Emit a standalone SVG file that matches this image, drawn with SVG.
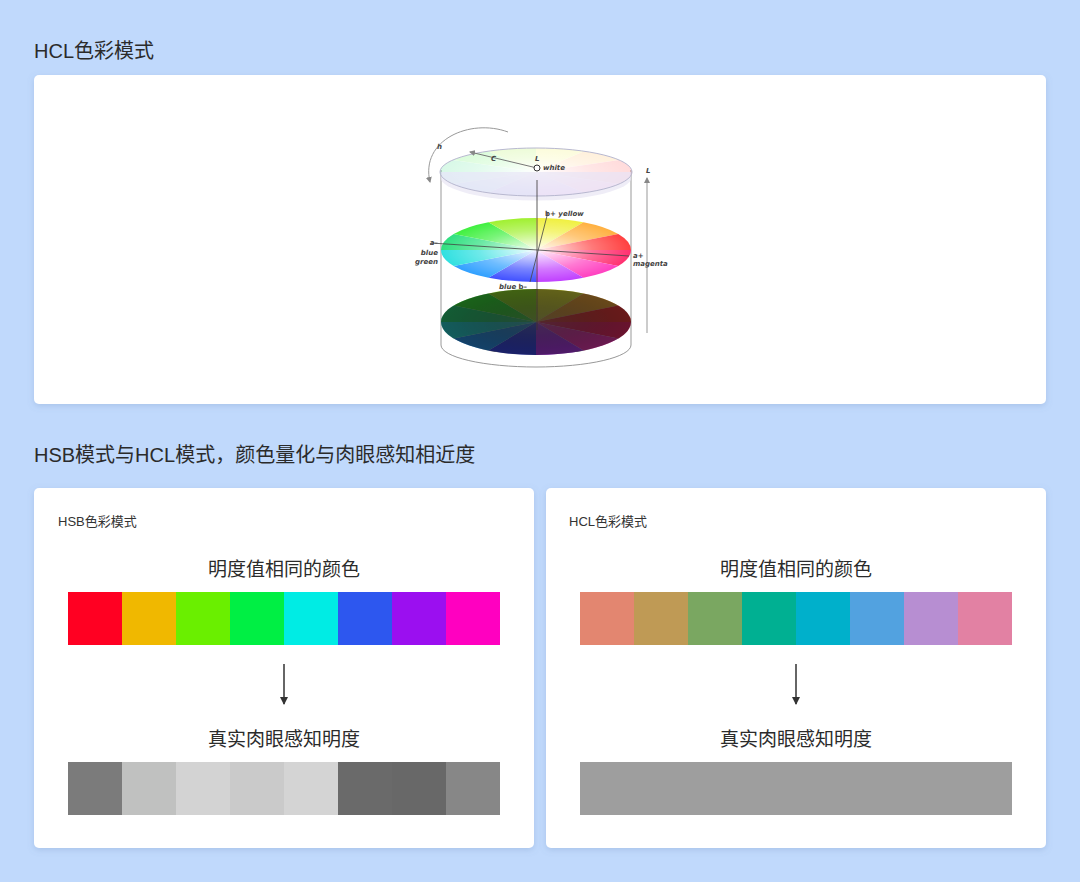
<svg xmlns="http://www.w3.org/2000/svg" width="1080" height="882" viewBox="0 0 1080 882">
<style>
.h{font-family:"Liberation Sans","Noto Sans CJK SC",sans-serif;font-size:20px;fill:#2b2b2b}
.s{font-family:"Liberation Sans","Noto Sans CJK SC",sans-serif;font-size:13px;fill:#333}
.t{font-family:"Liberation Sans","Noto Sans CJK SC",sans-serif;font-size:19px;fill:#2b2b2b;text-anchor:middle}
.card{fill:#fff;filter:url(#sh)}
.lb{font-family:"DejaVu Sans",sans-serif;font-size:7px;font-style:italic;font-weight:bold;fill:#444}
.ln{stroke:#999;fill:none;stroke-width:1}
</style>
<defs>
<filter id="sh" x="-5%" y="-5%" width="110%" height="115%"><feDropShadow dx="0" dy="2" stdDeviation="3" flood-color="#6080b0" flood-opacity="0.25"/></filter>
<radialGradient id="wc"><stop offset="0" stop-color="#fff" stop-opacity="0.95"/><stop offset="0.6" stop-color="#fff" stop-opacity="0.3"/><stop offset="1" stop-color="#fff" stop-opacity="0"/></radialGradient>
<radialGradient id="dk"><stop offset="0" stop-color="#555" stop-opacity="0.6"/><stop offset="1" stop-color="#000" stop-opacity="0.25"/></radialGradient>
<marker id="ar" markerWidth="8" markerHeight="8" refX="7" refY="4" orient="auto" markerUnits="userSpaceOnUse"><path d="M0,0 L8,4 L0,8z" fill="#333"/></marker>
<marker id="sa" markerWidth="6" markerHeight="6" refX="5" refY="3" orient="auto" markerUnits="userSpaceOnUse"><path d="M0,0 L6,3 L0,6z" fill="#888"/></marker>
<g id="wheel">
<path d="M0,0L1,0A1,1 0 0 1 .866,.5z" fill="#ff3070"/>
<path d="M0,0L.866,.5A1,1 0 0 1 .5,.866z" fill="#ff40c0"/>
<path d="M0,0L.5,.866A1,1 0 0 1 0,1z" fill="#c040ff"/>
<path d="M0,0L0,1A1,1 0 0 1 -.5,.866z" fill="#4050ff"/>
<path d="M0,0L-.5,.866A1,1 0 0 1 -.866,.5z" fill="#30a0ff"/>
<path d="M0,0L-.866,.5A1,1 0 0 1 -1,0z" fill="#30e0e0"/>
<path d="M0,0L-1,0A1,1 0 0 1 -.866,-.5z" fill="#30e080"/>
<path d="M0,0L-.866,-.5A1,1 0 0 1 -.5,-.866z" fill="#40f040"/>
<path d="M0,0L-.5,-.866A1,1 0 0 1 0,-1z" fill="#a0f030"/>
<path d="M0,0L0,-1A1,1 0 0 1 .5,-.866z" fill="#f0f040"/>
<path d="M0,0L.5,-.866A1,1 0 0 1 .866,-.5z" fill="#ffb040"/>
<path d="M0,0L.866,-.5A1,1 0 0 1 1,0z" fill="#ff4040"/>
</g>
</defs>
<rect width="1080" height="882" fill="#c0d9fc"/>
<text class="h" x="34" y="58">HCL色彩模式</text>
<text class="h" x="34" y="462">HSB模式与HCL模式，颜色量化与肉眼感知相近度</text>

<g id="card-top"><rect class="card" x="34" y="75" width="1012" height="329" rx="5"/></g>

<g id="cylinder">
<line class="ln" x1="441" y1="170" x2="441" y2="345"/>
<line class="ln" x1="631" y1="170" x2="631" y2="345"/>
<path d="M441,345 A95,22 0 0 0 631,345" class="ln"/>
<g transform="translate(536,322) scale(95,33)"><use href="#wheel"/><circle r="1" fill="url(#dk)"/><circle r="1" fill="#000" opacity="0.45"/></g>
<g transform="translate(536,250) scale(95,32)"><use href="#wheel"/><circle r="1" fill="url(#wc)"/></g>
<g transform="translate(536,172) scale(96,24)"><use href="#wheel" opacity="0.18"/><circle r="1" fill="url(#wc)"/></g>
<path d="M441,172 L441,180 A96,24 0 0 0 631,180 L631,172" fill="#e8e6f4" opacity="0.7"/>
<ellipse cx="536" cy="172" rx="96" ry="24" fill="none" stroke="#b8b8d0"/>
<line x1="537" y1="180" x2="537" y2="330" stroke="#333" stroke-width="0.8"/>
<line x1="431" y1="243" x2="629" y2="256" stroke="#444" stroke-width="0.8"/>
<line x1="548" y1="212" x2="530" y2="282" stroke="#444" stroke-width="0.8"/>
<line x1="537" y1="168" x2="470" y2="152" stroke="#777" marker-end="url(#sa)"/>
<circle cx="537" cy="168" r="3" fill="#fff" stroke="#333"/>
<path d="M508,132 C470,118 420,140 430,182" class="ln" marker-end="url(#sa)"/>
<line x1="647" y1="333" x2="647" y2="178" class="ln" marker-end="url(#sa)"/>
<text class="lb" x="437" y="149" font-size="9">h</text>
<text class="lb" x="491" y="161" font-size="9">C</text>
<text class="lb" x="535" y="161" font-style="normal">L</text>
<text class="lb" x="543" y="170">white</text>
<text class="lb" x="646" y="173" font-size="8">L</text>
<text class="lb" x="545" y="216"><tspan font-style="normal">b+</tspan> yellow</text>
<text class="lb" x="438" y="245" text-anchor="end" font-style="normal">a–</text>
<text class="lb" x="438" y="255" text-anchor="end">blue</text>
<text class="lb" x="438" y="264" text-anchor="end">green</text>
<text class="lb" x="633" y="258" font-style="normal">a+</text>
<text class="lb" x="633" y="266">magenta</text>
<text class="lb" x="499" y="289">blue <tspan font-style="normal">b–</tspan></text>
</g>

<g id="card-hsb">
<rect class="card" x="34" y="488" width="500" height="360" rx="5"/>
<text class="s" x="58" y="526">HSB色彩模式</text>
<text class="t" x="284" y="576">明度值相同的颜色</text>
<rect x="68" y="592" width="54" height="53" fill="#ff0022"/>
<rect x="122" y="592" width="54" height="53" fill="#f0b800"/>
<rect x="176" y="592" width="54" height="53" fill="#6aef00"/>
<rect x="230" y="592" width="54" height="53" fill="#00ef44"/>
<rect x="284" y="592" width="54" height="53" fill="#00ece4"/>
<rect x="338" y="592" width="54" height="53" fill="#2d57ef"/>
<rect x="392" y="592" width="54" height="53" fill="#9b0ff0"/>
<rect x="446" y="592" width="54" height="53" fill="#ff00c0"/>
<text class="t" x="284" y="746">真实肉眼感知明度</text>
<rect x="68" y="762" width="54" height="53" fill="#7b7b7b"/>
<rect x="122" y="762" width="54" height="53" fill="#c0c1c0"/>
<rect x="176" y="762" width="54" height="53" fill="#d3d3d3"/>
<rect x="230" y="762" width="54" height="53" fill="#cacaca"/>
<rect x="284" y="762" width="54" height="53" fill="#d4d4d4"/>
<rect x="338" y="762" width="54" height="53" fill="#6a6a6a"/>
<rect x="392" y="762" width="54" height="53" fill="#686868"/>
<rect x="446" y="762" width="54" height="53" fill="#878787"/>
</g>

<g id="card-hcl">
<rect class="card" x="546" y="488" width="500" height="360" rx="5"/>
<text class="s" x="569" y="526">HCL色彩模式</text>
<text class="t" x="796" y="576">明度值相同的颜色</text>
<rect x="580" y="592" width="54" height="53" fill="#e38670"/>
<rect x="634" y="592" width="54" height="53" fill="#bf9a55"/>
<rect x="688" y="592" width="54" height="53" fill="#7aa761"/>
<rect x="742" y="592" width="54" height="53" fill="#00b092"/>
<rect x="796" y="592" width="54" height="53" fill="#00b0cb"/>
<rect x="850" y="592" width="54" height="53" fill="#52a2e0"/>
<rect x="904" y="592" width="54" height="53" fill="#b78ed2"/>
<rect x="958" y="592" width="54" height="53" fill="#e281a3"/>
<text class="t" x="796" y="746">真实肉眼感知明度</text>
<rect x="580" y="762" width="432" height="53" fill="#9e9e9e"/>
</g>

<g id="connectors">
<line x1="284" y1="664" x2="284" y2="704" stroke="#333" stroke-width="1.5" marker-end="url(#ar)"/>
<line x1="796" y1="664" x2="796" y2="704" stroke="#333" stroke-width="1.5" marker-end="url(#ar)"/>
</g>
</svg>
